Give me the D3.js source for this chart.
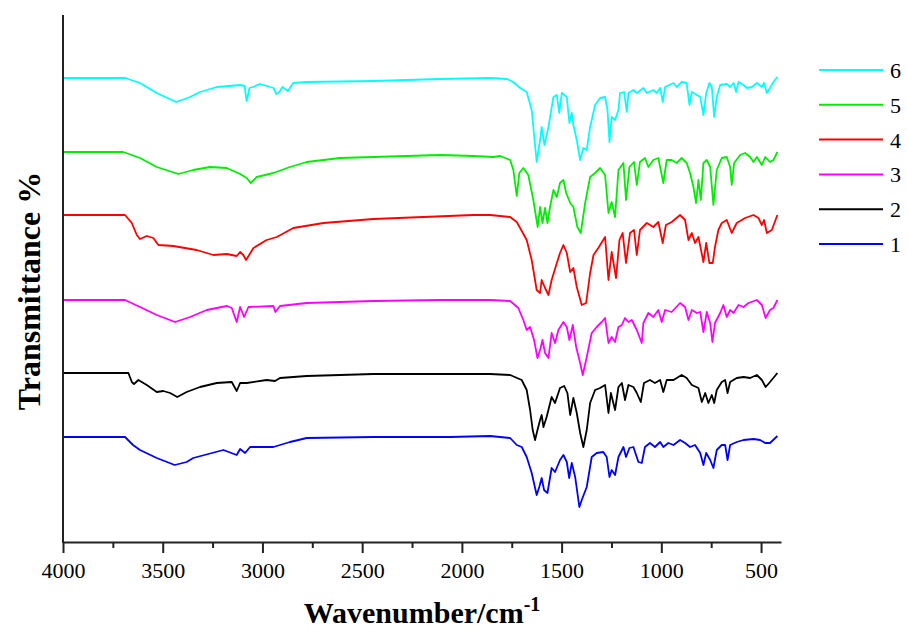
<!DOCTYPE html>
<html>
<head>
<meta charset="UTF-8">
<title>FTIR spectra</title>
<script src="https://cdn.jsdelivr.net/npm/d3@7"></script>
<style>
  body { margin: 0; background: #fff; }
  svg text { font-family: "Liberation Serif", "Times New Roman", serif; }
</style>
</head>
<body>
<script>
// x ticks (wavenumber, cm-1)
var majorTicks = [4000, 3500, 3000, 2500, 2000, 1500, 1000, 500];
var minorTicks = [3750, 3250, 2750, 2250, 1750, 1250, 750];

// series labels, bottom to top
var names = ["1", "2", "3", "4", "5", "6"];

// curve 1 (blue)
var wn1 = [4000,3689,3649,3614,3530,3440,3380,3347,3196,3129,3112,3087,3062,2945,2862,2778,2444,2059,1859,1758,
  1725,1700,1675,1650,1625,1612,1600,1588,1571,1550,1533,1508,1491,1474,1462,1449,1432,1411,1399,1374,
  1349,1324,1291,1274,1260,1249,1232,1215,1190,1177,1160,1140,1115,1098,1082,1057,1032,1006,990,965,
  939,906,881,856,831,805,789,775,755,739,722,697,680,668,655,622,588,538,505,479,455,418];
var t1 = [105,105,97,92,84,77,80,84,92,87,93,89,95,95,100,104,105,105,106,104,
  97,95,85,69,47,55,64,52,49,74,70,82,87,80,64,79,65,35,42,55,
  85,89,90,85,65,72,67,85,95,85,94,95,80,79,95,99,95,100,95,99,
  97,102,99,95,97,89,77,89,82,74,92,97,97,82,97,100,102,103,102,99,99,106];

// curve 2 (black)
var wn2 = [4000,3672,3655,3644,3622,3580,3530,3497,3463,3427,3380,3313,3229,3154,3129,3112,3079,2979,2937,2912,
  2778,2444,2109,1859,1758,1700,1675,1658,1645,1633,1621,1608,1600,1591,1575,1550,1533,1508,1487,1471,
  1457,1441,1424,1407,1391,1374,1357,1332,1307,1282,1265,1253,1232,1215,1198,1182,1165,1140,1123,1103,
  1087,1057,1032,1006,990,973,939,898,873,847,814,797,780,764,747,735,722,697,680,668,
  655,622,588,555,521,496,477,455,418];
var t2 = [169,169,160,158,162,157,150,151,149,145,150,155,159,160,151,159,159,162,161,164,
  166,168,168,168,167,162,152,132,112,102,112,122,127,115,125,145,139,154,156,149,
  127,144,129,109,95,112,139,152,154,157,129,149,132,155,159,142,157,155,149,140,
  159,162,159,162,150,162,162,167,164,157,154,140,149,139,147,139,152,160,162,149,
  160,164,165,164,167,162,155,160,169];

// curve 3 (magenta)
var wn3 = [4000,3689,3614,3530,3438,3363,3279,3179,3154,3129,3112,3092,3070,2945,2935,2912,2778,2444,2109,1859,
  1758,1717,1692,1675,1658,1638,1621,1608,1596,1583,1566,1550,1533,1516,1491,1474,1461,1444,1427,1407,
  1394,1374,1349,1324,1299,1282,1265,1249,1232,1215,1198,1182,1165,1148,1123,1098,1090,1065,1040,1015,
  998,981,948,906,881,864,847,822,805,789,772,755,744,731,705,689,672,655,638,613,
  588,563,521,496,477,455,438,418];
var t3 = [242,242,235,227,220,225,232,236,234,220,235,225,235,236,230,236,239,241,242,242,
  241,234,222,212,215,202,184,192,202,189,184,209,199,212,220,215,202,217,195,179,
  167,185,209,215,220,224,199,205,200,215,217,224,220,222,212,199,219,229,225,232,
  220,232,230,239,235,222,232,229,230,210,230,219,200,219,229,237,225,232,229,237,
  235,239,242,237,224,232,234,242];

// curve 4 (red)
var wn4 = [4000,3689,3655,3630,3614,3580,3547,3522,3447,3330,3246,3179,3129,3112,3096,3082,3045,2979,2928,2845,
  2694,2444,2193,1942,1859,1758,1725,1708,1675,1650,1625,1608,1600,1583,1566,1550,1524,1508,1491,1474,
  1457,1441,1424,1399,1377,1357,1340,1316,1282,1265,1249,1227,1210,1194,1177,1157,1137,1123,1107,1073,
  1040,1015,993,977,948,906,881,864,847,831,814,789,775,759,742,731,714,697,672,647,
  622,580,538,513,496,485,471,446,418];
var t4 = [327,327,319,307,303,306,304,297,296,292,287,288,286,290,287,282,294,302,305,314,
  319,323,325,327,327,325,320,314,302,282,252,249,262,254,247,262,279,289,297,289,
  270,274,255,237,239,269,287,294,305,262,290,264,302,309,279,309,312,287,312,319,
  315,320,299,317,320,327,322,302,309,299,305,280,299,279,279,295,312,319,322,309,
  319,324,327,324,317,322,309,312,327];

// curve 5 (green)
var wn5 = [4000,3698,3614,3530,3422,3347,3263,3179,3112,3079,3059,3029,2945,2862,2778,2611,2444,2277,2109,1942,
  1842,1808,1758,1742,1725,1712,1692,1667,1642,1620,1608,1596,1583,1571,1558,1541,1524,1508,1491,1477,
  1457,1441,1421,1404,1382,1357,1332,1307,1282,1265,1249,1232,1215,1190,1177,1160,1137,1123,1107,1082,
  1065,1040,1015,990,973,948,923,898,873,856,839,826,814,802,789,772,755,739,722,697,
  672,655,647,635,605,580,555,538,521,496,479,455,438,418];
var t5 = [390,390,384,375,368,372,375,374,368,364,359,365,369,375,380,384,385,386,387,386,
  385,386,382,372,346,369,374,367,342,315,335,319,334,319,335,352,345,359,362,349,
  339,335,315,309,339,365,369,374,367,329,340,325,372,379,342,375,380,357,380,384,
  375,382,384,359,382,382,379,384,379,369,355,339,362,342,379,382,375,337,372,384,
  385,375,357,379,387,389,385,380,385,377,385,380,382,390];

// curve 6 (cyan)
var wn6 = [4000,3689,3614,3530,3433,3363,3313,3229,3112,3090,3079,3065,3047,3012,2945,2930,2915,2900,2872,2846,
  2778,2444,2109,1859,1773,1743,1708,1675,1650,1625,1608,1600,1586,1566,1541,1524,1512,1499,1474,1461,
  1449,1441,1424,1407,1391,1374,1357,1332,1307,1282,1270,1260,1249,1232,1215,1207,1187,1173,1165,1140,
  1123,1090,1073,1040,1023,1006,993,981,939,923,898,873,859,847,822,805,789,775,759,747,
  735,722,705,672,655,638,625,613,588,571,546,521,496,485,471,455,438,418];
var t6 = [464,464,459,449,440,445,450,455,457,456,441,454,455,458,454,448,450,455,451,459,
  460,461,463,464,463,460,454,450,432,380,402,415,397,415,445,447,429,449,445,419,
  429,417,402,382,394,392,415,437,444,445,432,400,425,422,432,449,450,430,449,452,
  449,454,449,452,449,454,440,455,459,455,460,459,437,450,447,445,427,449,459,455,
  425,445,457,458,455,459,450,460,457,454,455,459,455,459,449,454,460,465];

var colors = ["#0000ff", "#000000", "#ff00ff", "#ff0000", "#00ee00", "#00ffff"];

var wns = [wn1, wn2, wn3, wn4, wn5, wn6];
var ts = [t1, t2, t3, t4, t5, t6];

var w = 907, h = 632;
var plotLeft = 63, plotRight = 781, plotTop = 15, plotBottom = 542;

var svg = d3.select("body").append("svg")
  .attr("width", w)
  .attr("height", h);

var x = d3.scaleLinear().domain([4000, 400]).range([plotLeft, plotRight]);
var y = d3.scaleLinear().domain([0, 527]).range([plotBottom, plotTop]);

// spectra
var line = d3.line()
  .x(function(d) { return x(d[0]); })
  .y(function(d) { return y(d[1]); });

var series = names.map(function(n, i) {
  return { name: n, color: colors[i], pts: d3.zip(wns[i], ts[i]) };
});

svg.append("g").selectAll("path")
  .data(series)
  .enter()
  .append("path")
  .attr("d", function(d) { return line(d.pts); })
  .attr("fill", "none")
  .attr("stroke", function(d) { return d.color; })
  .attr("stroke-width", 1.8)
  .attr("stroke-linejoin", "round");

// minor ticks
svg.append("g")
  .attr("transform", "translate(0," + plotBottom + ")")
  .call(d3.axisBottom(x).tickValues(minorTicks).tickSize(6).tickFormat(""))
  .call(function(g) { g.select(".domain").remove(); })
  .selectAll("line").attr("stroke", "#222").attr("stroke-width", 2);

// major ticks + labels
var xAxis = svg.append("g")
  .attr("transform", "translate(0," + plotBottom + ")")
  .call(d3.axisBottom(x).tickValues(majorTicks).tickFormat(d3.format("d"))
    .tickSize(11).tickSizeOuter(0).tickPadding(9));
xAxis.select(".domain").attr("stroke", "#222").attr("stroke-width", 2);
xAxis.selectAll(".tick line").attr("stroke", "#222").attr("stroke-width", 2);
xAxis.selectAll("text")
  .style("font-family", "'Liberation Serif', serif")
  .style("font-size", "22px")
  .attr("fill", "#000");

// y axis line, no ticks
svg.append("line")
  .attr("x1", plotLeft).attr("x2", plotLeft)
  .attr("y1", plotTop).attr("y2", plotBottom + 1)
  .attr("stroke", "#222")
  .attr("stroke-width", 2);

// axis titles
var xt = svg.append("text")
  .attr("x", (plotLeft + plotRight) / 2)
  .attr("y", 623)
  .attr("text-anchor", "middle")
  .attr("font-size", 30)
  .attr("font-weight", "bold");
xt.append("tspan").text("Wavenumber/cm");
xt.append("tspan").attr("dy", -12).attr("font-size", 20).text("-1");

svg.append("text")
  .attr("transform", "translate(40,291) rotate(-90)")
  .attr("text-anchor", "middle")
  .attr("font-size", 32)
  .attr("font-weight", "bold")
  .text("Transmittance %");

// legend (top = last series)
var legend = svg.append("g").selectAll("g")
  .data(series.slice().reverse())
  .enter()
  .append("g")
  .attr("transform", function(d, i) { return "translate(819," + (70 + i * 34.8) + ")"; });

legend.append("line")
  .attr("x1", 0).attr("x2", 64)
  .attr("stroke", function(d) { return d.color; })
  .attr("stroke-width", 2);

legend.append("text")
  .attr("x", 71)
  .attr("y", 8)
  .attr("font-size", 22)
  .text(function(d) { return d.name; });
</script>
</body>
</html>
